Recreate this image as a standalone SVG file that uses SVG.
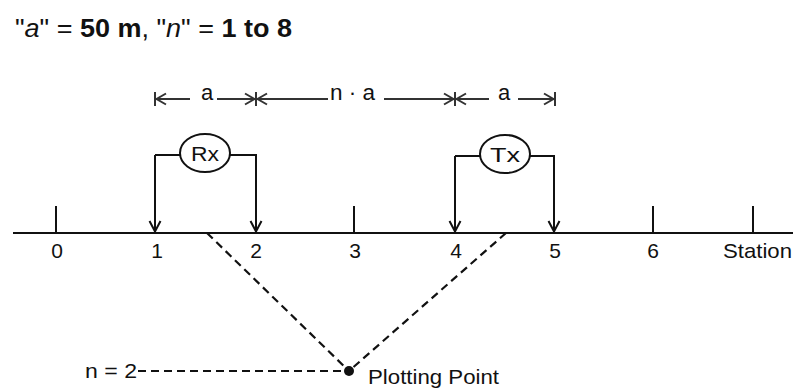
<svg xmlns="http://www.w3.org/2000/svg" width="793" height="389" viewBox="0 0 793 389">
<style>
text{font-family:"Liberation Sans",Arial,sans-serif;fill:#111}
.ln{stroke:#111;stroke-width:2;fill:none}
.dim{stroke:#333;stroke-width:2;fill:none}
.dash{stroke:#111;stroke-width:2.2;fill:none;stroke-dasharray:8 5}
.lbl{font-size:21px;text-anchor:middle}
.node{fill:#fff;stroke:#111;stroke-width:2}
</style>
<defs>
<marker id="ah" viewBox="0 0 14 14" refX="13" refY="7" markerWidth="14" markerHeight="14" markerUnits="userSpaceOnUse" orient="auto-start-reverse">
<path d="M2,1.5 L12.5,7 L2,12.5" fill="none" stroke="#111" stroke-width="2"/>
</marker>
<marker id="dh" viewBox="0 0 12 14" refX="11" refY="7" markerWidth="12" markerHeight="14" markerUnits="userSpaceOnUse" orient="auto-start-reverse">
<path d="M1,1.5 L10.5,7 L1,12.5" fill="none" stroke="#333" stroke-width="2"/>
</marker>
</defs>
<text x="15" y="37" font-size="25" textLength="277" lengthAdjust="spacingAndGlyphs">"<tspan font-style="italic">a</tspan>" = <tspan font-weight="bold">50 m</tspan>, "<tspan font-style="italic">n</tspan>" = <tspan font-weight="bold">1 to 8</tspan></text>
<g id="dimensions">
<path class="dim" d="M155,92 V106 M256,92 V106 M455,92 V106 M555,92 V106"/>
<path class="dim" d="M190,99 H156" marker-end="url(#dh)"/>
<path class="dim" d="M217,99 H255" marker-end="url(#dh)"/>
<path class="dim" d="M328,99 H257" marker-end="url(#dh)"/>
<path class="dim" d="M384,99 H454" marker-end="url(#dh)"/>
<path class="dim" d="M489,99 H456" marker-end="url(#dh)"/>
<path class="dim" d="M518,99 H554" marker-end="url(#dh)"/>
<text x="207" y="100" font-size="22" text-anchor="middle">a</text>
<text x="330" y="100" font-size="22" textLength="45" lengthAdjust="spacingAndGlyphs">n · a</text>
<text x="504" y="100" font-size="22" text-anchor="middle">a</text>
</g>
<g id="axis">
<path class="ln" d="M13,233 H793"/>
<path class="ln" d="M56,206 V233 M354,206 V233 M653,206 V233 M753,206 V233"/>
<text class="lbl" x="57" y="258">0</text>
<text class="lbl" x="157" y="258">1</text>
<text class="lbl" x="256" y="258">2</text>
<text class="lbl" x="355" y="258">3</text>
<text class="lbl" x="456" y="258">4</text>
<text class="lbl" x="555" y="258">5</text>
<text class="lbl" x="653" y="258">6</text>
<text x="723" y="258" font-size="21" textLength="69" lengthAdjust="spacingAndGlyphs">Station</text>
</g>
<g id="connectors">
<path class="ln" d="M155,155 V232" marker-end="url(#ah)"/>
<path class="ln" d="M155,155 H180"/>
<path class="ln" d="M230,155 H256 V232" marker-end="url(#ah)"/>
<path class="ln" d="M455,156 V232" marker-end="url(#ah)"/>
<path class="ln" d="M455,156 H480"/>
<path class="ln" d="M530,156 H554 V232" marker-end="url(#ah)"/>
<path class="dash" d="M207,233 L349,371 M506,233 L349,371 M138,371 H349"/>
</g>
<g id="rx">
<ellipse class="node" cx="205" cy="153" rx="25" ry="19"/>
<text x="205" y="161" font-size="21" text-anchor="middle" textLength="28" lengthAdjust="spacingAndGlyphs">Rx</text>
</g>
<g id="tx">
<ellipse class="node" cx="505" cy="154" rx="25" ry="19"/>
<text x="505" y="162" font-size="21" text-anchor="middle" textLength="30" lengthAdjust="spacingAndGlyphs">Tx</text>
</g>
<g id="plotting-point">
<circle cx="349" cy="371" r="5" fill="#111"/>
<text x="368" y="384" font-size="21" textLength="131" lengthAdjust="spacingAndGlyphs">Plotting Point</text>
</g>
<g id="n-label">
<text x="85" y="378" font-size="21" textLength="52" lengthAdjust="spacingAndGlyphs">n = 2</text>
</g>
</svg>
